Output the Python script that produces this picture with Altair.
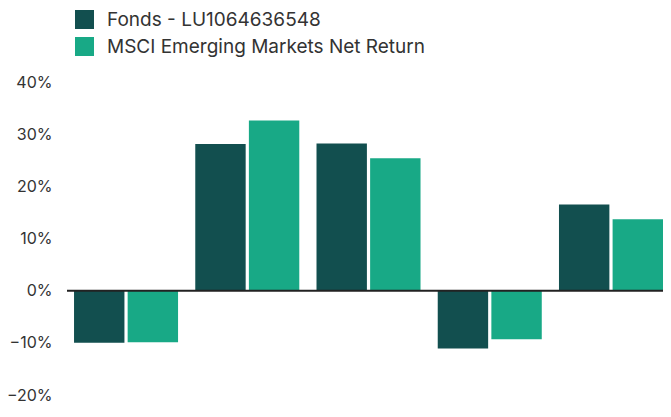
import altair as alt
import pandas as pd

periods = ["P1", "P2", "P3", "P4", "P5"]
series_names = ["Fonds - LU1064636548", "MSCI Emerging Markets Net Return"]
fund_values = [-10.0, 28.1, 28.2, -11.1, 16.5]
index_values = [-9.9, 32.6, 25.4, -9.3, 13.7]
colors = ["#124f4f", "#18a986"]

rows = []
for p, f, i in zip(periods, fund_values, index_values):
    rows.append({"period": p, "series": series_names[0], "value": f / 100})
    rows.append({"period": p, "series": series_names[1], "value": i / 100})
df = pd.DataFrame(rows)

font = "Inter"

bars = alt.Chart(df).mark_bar().encode(
    x=alt.X("period:N", sort=periods, axis=None,
            scale=alt.Scale(paddingInner=0.142, paddingOuter=0.029, align=1)),
    xOffset=alt.XOffset("series:N", sort=series_names,
                        scale=alt.Scale(paddingInner=0.06, paddingOuter=0)),
    y=alt.Y("value:Q",
            scale=alt.Scale(domain=[-0.2, 0.4], nice=False),
            axis=alt.Axis(format=".0%", values=[-0.2, -0.1, 0, 0.1, 0.2, 0.3, 0.4],
                          grid=False, domain=False, ticks=False, title=None,
                          labelFont=font, labelFontSize=16, labelColor="#333333",
                          labelPadding=15)),
    color=alt.Color("series:N", sort=series_names,
                    scale=alt.Scale(domain=series_names, range=colors),
                    legend=alt.Legend(title=None, orient="none", legendX=8, legendY=-72,
                                      direction="vertical", symbolType="square",
                                      symbolSize=361, symbolStrokeWidth=0,
                                      labelFont=font, labelFontSize=19, labelLimit=0,
                                      labelColor="#333333", rowPadding=7,
                                      labelOffset=13)),
)

zero = alt.Chart(pd.DataFrame({"z": [0]})).mark_rule(color="#222222", strokeWidth=2).encode(
    y="z:Q"
)

chart = alt.layer(bars, zero).properties(
    width=596, height=313,
    autosize=alt.AutoSizeParams(type="none"),
    padding={"left": 59, "top": 74, "right": 0, "bottom": 14},
).configure_view(stroke=None)

chart.save("out.html", embed_options={"renderer": "svg", "actions": False})
